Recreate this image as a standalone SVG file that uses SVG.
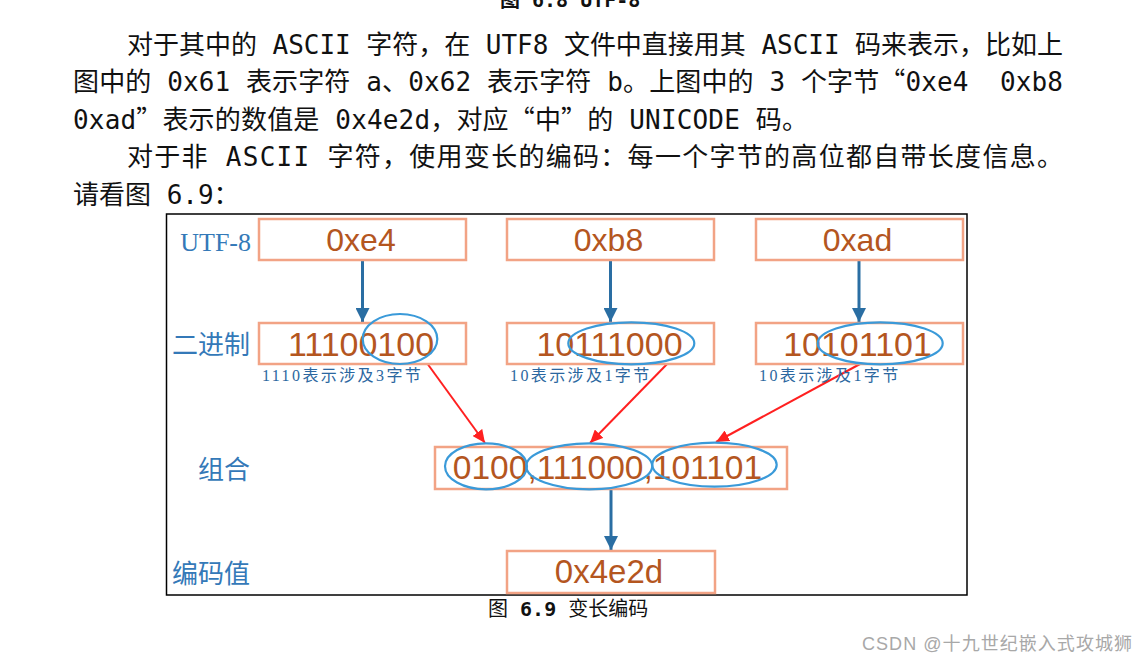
<svg xmlns="http://www.w3.org/2000/svg" width="1145" height="665" viewBox="0 0 1145 665">
  <style>
    .para { font-family: "DejaVu Sans Mono", "Noto Sans CJK SC", monospace; font-size: 26px; fill: #111; white-space: pre; }
    .cj { font-family: "Noto Sans CJK SC", sans-serif; }
    .cap { font-family: "DejaVu Sans Mono", "Noto Sans CJK SC", monospace; font-size: 20px; fill: #111; white-space: pre; }
    .box { fill: #fff; stroke: #F2A385; stroke-width: 2.5; }
    .val { font-family: "Liberation Sans", Arial, sans-serif; fill: #B4561F; text-anchor: middle; }
    .lbl { font-family: "Noto Sans CJK SC", sans-serif; font-size: 26px; fill: #3479B8; text-anchor: end; }
    .lblser { font-family: "Liberation Serif", serif; font-size: 26px; fill: #3479B8; text-anchor: end; }
    .note { font-family: "Liberation Serif", "Noto Sans CJK SC", serif; font-size: 16px; fill: #2B67A0; letter-spacing: 2.4px; }
    .ell { fill: none; stroke: #3A9AD9; stroke-width: 2.2; }
    .blue { stroke: #2A6EA3; stroke-width: 3; fill: none; }
    .red { stroke: #FF2020; stroke-width: 2; fill: none; }
  </style>
  <defs>
    <marker id="ab" markerUnits="userSpaceOnUse" markerWidth="14" markerHeight="14" refX="14" refY="7" orient="auto">
      <path d="M0,0 L14,7 L0,14 z" fill="#2A6EA3"/>
    </marker>
    <marker id="ar" markerUnits="userSpaceOnUse" markerWidth="13" markerHeight="12" refX="13" refY="6" orient="auto">
      <path d="M0,0 L13,6 L0,12 z" fill="#FF2020"/>
    </marker>
  </defs>
  <rect x="0" y="0" width="1145" height="665" fill="#fff"/>

  <!-- surrounding document text -->
  <text class="cap" x="500" y="7" font-weight="bold">图 6.8 UTF-8</text>
  <text class="para" x="127" y="54" textLength="936" lengthAdjust="spacing">对于其中的 ASCII 字符，在 UTF8 文件中直接用其 ASCII 码来表示，比如上</text>
  <text class="para" x="73" y="91" textLength="990" lengthAdjust="spacing">图中的 0x61 表示字符 a、0x62 表示字符 b。上图中的 3 个字节<tspan class="cj">“</tspan>0xe4  0xb8</text>
  <text class="para" x="73" y="128.5" textLength="735" lengthAdjust="spacing">0xad<tspan class="cj">”</tspan>表示的数值是 0x4e2d，对应<tspan class="cj">“</tspan>中<tspan class="cj">”</tspan>的 UNICODE 码。</text>
  <text class="para" x="127" y="166" textLength="936" lengthAdjust="spacing">对于非 ASCII 字符，使用变长的编码：每一个字节的高位都自带长度信息。</text>
  <text class="para" x="73" y="203.5">请看图 6.9：</text>

  <!-- frame -->
  <rect x="166.5" y="214" width="800.5" height="381" fill="none" stroke="#000" stroke-width="1.5"/>

  <!-- row labels -->
  <g id="labels">
    <text class="lblser" x="251" y="251">UTF-8</text>
    <text class="lbl" x="250" y="354">二进制</text>
    <text class="lbl" x="250" y="479">组合</text>
    <text class="lbl" x="250" y="583">编码值</text>
  </g>

  <!-- connectors -->
  <g id="connectors">
    <line class="blue" x1="362.5" y1="261" x2="362.5" y2="322" marker-end="url(#ab)"/>
    <line class="blue" x1="610.5" y1="261" x2="610.5" y2="322" marker-end="url(#ab)"/>
    <line class="blue" x1="859" y1="261" x2="859" y2="322" marker-end="url(#ab)"/>
    <line class="blue" x1="611" y1="489" x2="611" y2="550" marker-end="url(#ab)"/>
    <line class="red" x1="424" y1="359" x2="485" y2="443" marker-end="url(#ar)"/>
    <line class="red" x1="671" y1="360" x2="590" y2="443" marker-end="url(#ar)"/>
    <line class="red" x1="860" y1="364" x2="716" y2="442" marker-end="url(#ar)"/>
  </g>

  <!-- UTF-8 bytes -->
  <g id="hex1"><rect class="box" x="259" y="219" width="207" height="41"/><text class="val" x="361" y="251" font-size="32">0xe4</text></g>
  <g id="hex2"><rect class="box" x="507" y="219" width="207" height="41"/><text class="val" x="608.5" y="251" font-size="32">0xb8</text></g>
  <g id="hex3"><rect class="box" x="756" y="219" width="207" height="41"/><text class="val" x="857.5" y="251" font-size="32">0xad</text></g>

  <!-- binary -->
  <g id="bin1">
    <rect class="box" x="259" y="323" width="207" height="41"/>
    <text class="val" x="361" y="355.5" font-size="34">11100100</text>
    <ellipse class="ell" cx="400" cy="339" rx="37.3" ry="25"/>
    <text class="note" x="262" y="381">1110表示涉及3字节</text>
  </g>
  <g id="bin2">
    <rect class="box" x="507" y="323" width="207" height="41"/>
    <text class="val" x="609.5" y="355.5" font-size="34">10111000</text>
    <ellipse class="ell" cx="631.3" cy="343.3" rx="63" ry="21"/>
    <text class="note" x="510" y="381">10表示涉及1字节</text>
  </g>
  <g id="bin3">
    <rect class="box" x="756" y="323" width="207" height="41"/>
    <text class="val" x="857.5" y="355.5" font-size="34">10101101</text>
    <ellipse class="ell" cx="880.2" cy="343.3" rx="62.5" ry="21"/>
    <text class="note" x="759" y="381">10表示涉及1字节</text>
  </g>

  <!-- combination -->
  <g id="combo">
    <rect class="box" x="435" y="447" width="352" height="42"/>
    <text class="val" x="607.5" y="478.5" font-size="33.5">0100,111000,101101</text>
    <ellipse class="ell" cx="486" cy="466.3" rx="41" ry="23"/>
    <ellipse class="ell" cx="589.2" cy="466.3" rx="63" ry="23"/>
    <ellipse class="ell" cx="714.5" cy="464.7" rx="62.2" ry="22"/>
  </g>

  <!-- result -->
  <g id="result">
    <rect class="box" x="507" y="551" width="208" height="42"/>
    <text class="val" x="609" y="582.5" font-size="33">0x4e2d</text>
  </g>

  <text class="cap" x="488" y="616">图 <tspan font-weight="bold">6.9</tspan> 变长编码</text>

  <text x="862" y="650" font-family="Liberation Sans, Noto Sans CJK SC, sans-serif" font-size="18" fill="#A8A8A8" textLength="270" lengthAdjust="spacing">CSDN @十九世纪嵌入式攻城狮</text>
</svg>
